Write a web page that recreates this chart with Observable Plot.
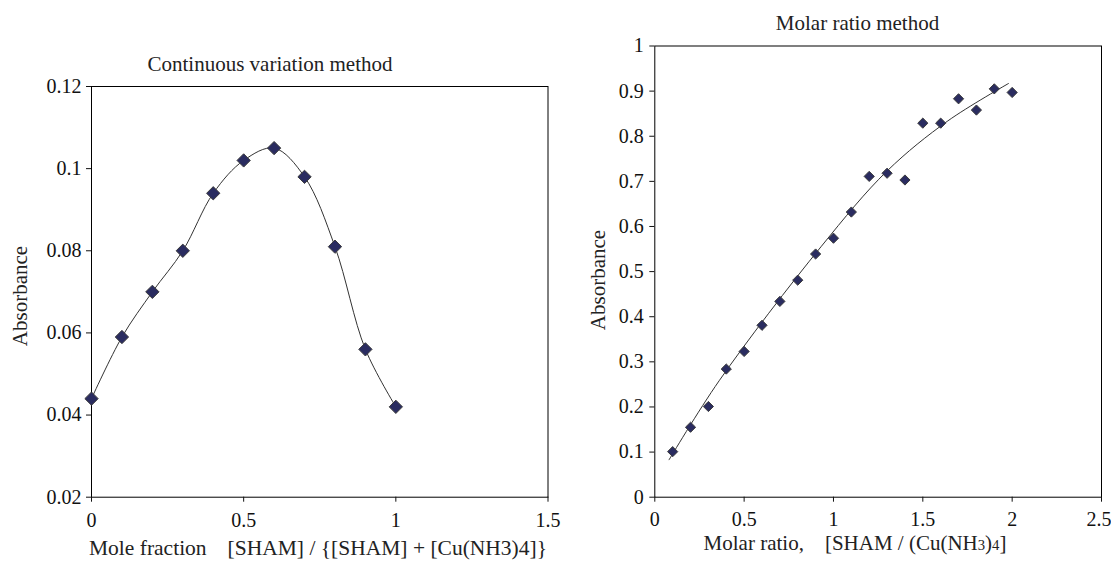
<!DOCTYPE html>
<html>
<head>
<meta charset="utf-8">
<script src="https://cdn.jsdelivr.net/npm/d3@7"></script>
<script src="https://cdn.jsdelivr.net/npm/@observablehq/plot@0.6"></script>
<style>
  html, body { margin: 0; padding: 0; background: #fff; }
  #wrap { position: relative; width: 1111px; height: 561px; overflow: hidden; font-family: "Liberation Serif", "Times New Roman", serif; color: #222; }
  .pl { position: absolute; top: 0; }
  .txt { position: absolute; white-space: pre; line-height: 1; font-size: 21px; transform: translateX(-50%); }
  .ylab { position: absolute; white-space: pre; line-height: 1; font-size: 21px; transform: translate(-50%, -50%) rotate(-90deg); }
  sub { font-size: 70%; vertical-align: baseline; position: relative; top: 0; line-height: 0; }
</style>
</head>
<body>
<div id="wrap">
  <div class="pl" id="left" style="left:0px"></div>
  <div class="pl" id="right" style="left:560px"></div>
  <div class="txt" style="left:270px; top:53.7px">Continuous variation method</div>
  <div class="txt" style="left:857.5px; top:12.7px">Molar ratio method</div>
  <div class="txt" style="left:89px; top:538px; width:458px; transform:none; display:flex; justify-content:space-between; font-size:21.5px"><span>Mole fraction</span><span>[SHAM] / {[SHAM] + [Cu(NH3)4]}</span></div>
  <div class="txt" style="left:855px; top:533px">Molar ratio,    [SHAM / (Cu(NH<sub>3</sub>)<sub>4</sub>]</div>
  <div class="ylab" style="left:19.6px; top:296.4px">Absorbance</div>
  <div class="ylab" style="left:597.5px; top:279.5px">Absorbance</div>
</div>
<script>
// Continuous variation method
const cvFraction = [0, 0.1, 0.2, 0.3, 0.4, 0.5, 0.6, 0.7, 0.8, 0.9, 1.0];
const cvAbsorbance = [0.044, 0.059, 0.070, 0.080, 0.094, 0.102, 0.105, 0.098, 0.081, 0.056, 0.042];
const cvXTicks = [0, 0.5, 1, 1.5];
const cvYTicks = [0.02, 0.04, 0.06, 0.08, 0.1, 0.12];

// Molar ratio method
const mrRatio = [0.1, 0.2, 0.3, 0.4, 0.5, 0.6, 0.7, 0.8, 0.9, 1.0, 1.1, 1.2, 1.3, 1.4, 1.5, 1.6, 1.7, 1.8, 1.9, 2.0];
const mrAbsorbance = [0.101, 0.155, 0.201, 0.284, 0.323, 0.381, 0.434, 0.481, 0.539, 0.574, 0.632, 0.711, 0.718, 0.703, 0.829, 0.829, 0.883, 0.858, 0.905, 0.897];
// trend line
const trendRatio = [0.08, 0.36, 0.93, 1.30, 1.64, 1.98];
const trendAbsorbance = [0.083, 0.258, 0.555, 0.723, 0.834, 0.917];
const mrXTicks = [0, 0.5, 1, 1.5, 2, 2.5];
const mrYTicks = [0, 0.1, 0.2, 0.3, 0.4, 0.5, 0.6, 0.7, 0.8, 0.9, 1];

const cv = cvFraction.map((x, i) => ({x, y: cvAbsorbance[i]}));
const mr = mrRatio.map((x, i) => ({x, y: mrAbsorbance[i]}));
const tr = trendRatio.map((x, i) => ({x, y: trendAbsorbance[i]}));

const baseStyle = {fontFamily: "Liberation Serif, Times New Roman, serif", fontSize: "20px", color: "#111", background: "transparent", overflow: "visible"};
const markerFill = "#2a2c60";
const markerStroke = "#3c3c3c";

const left = Plot.plot({
  width: 560, height: 561,
  marginLeft: 91, marginRight: 12.5, marginTop: 86, marginBottom: 64.3,
  x: {domain: [0, 1.5]},
  y: {domain: [0.02, 0.12]},
  style: baseStyle,
  marks: [
    Plot.frame({stroke: "#000", strokeWidth: 1}),
    Plot.axisX({ticks: cvXTicks, tickSize: 5, tickPadding: 11, label: null, tickFormat: d => String(d)}),
    Plot.axisY({ticks: cvYTicks, tickSize: 5, tickPadding: 5, label: null, tickFormat: d => String(d)}),
    Plot.line(cv, {x: "x", y: "y", curve: "catmull-rom", stroke: "#333", strokeWidth: 1}),
    Plot.dot(cv, {x: "x", y: "y", symbol: "diamond2", r: 6, fill: markerFill, stroke: markerStroke, strokeWidth: 1})
  ]
});
document.getElementById("left").appendChild(left);

const lastTick = mrXTicks[mrXTicks.length - 1];
const right = Plot.plot({
  width: 551, height: 561,
  marginLeft: 94.3, marginRight: 10, marginTop: 45.5, marginBottom: 64.3,
  x: {domain: [0, 2.5]},
  y: {domain: [0, 1]},
  style: baseStyle,
  marks: [
    Plot.frame({stroke: "#000", strokeWidth: 1}),
    Plot.axisX({ticks: mrXTicks, tickSize: 5, tickPadding: 10, label: null, tickFormat: d => d === lastTick ? "" : String(d)}),
    Plot.text([lastTick], {x: d => d, text: d => String(d), frameAnchor: "bottom", lineAnchor: "top", dy: 15, dx: -2.5, fill: "#111"}),
    Plot.axisY({ticks: mrYTicks, tickSize: 5, tickPadding: 6, label: null, tickFormat: d => String(d)}),
    Plot.line(tr, {x: "x", y: "y", curve: "catmull-rom", stroke: "#333", strokeWidth: 1}),
    Plot.dot(mr, {x: "x", y: "y", symbol: "diamond2", r: 4.6, fill: markerFill, stroke: markerStroke, strokeWidth: 1})
  ]
});
document.getElementById("right").appendChild(right);
</script>
</body>
</html>
